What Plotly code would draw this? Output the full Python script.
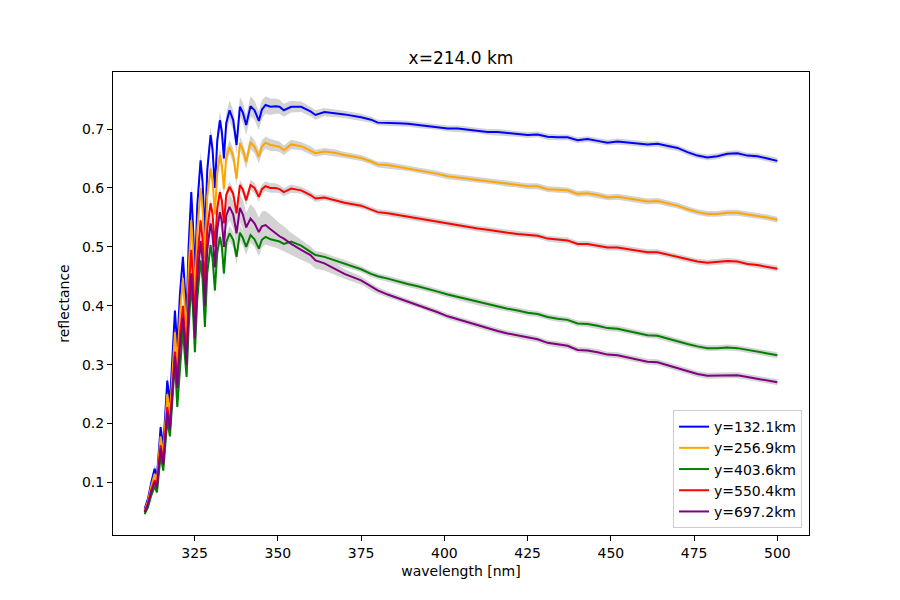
import plotly.graph_objects as go

wavelength = [310.0, 311.0, 312.0, 313.0, 313.7, 314.8, 315.6, 316.8, 317.6, 319.1,
              319.8, 320.6, 321.5, 322.0, 322.6, 323.2, 324.0, 324.5, 325.1, 325.8,
              326.8, 327.4, 328.1, 328.8, 329.8, 330.4, 331.1, 331.8, 332.6, 333.2,
              333.8, 334.5, 335.5, 336.6, 337.6, 338.6, 339.5, 340.5, 341.8, 343.0,
              344.3, 345.2, 346.3, 347.8, 349.3, 350.5, 351.8, 354.0, 357.0, 359.8,
              361.3, 364.0, 367.0, 370.0, 375.0, 378.0, 380.0,
              383, 386, 389, 392, 395, 398, 401, 404, 407, 410,
              413, 416, 419, 422, 425, 428, 431, 434, 437, 440,
              443, 446, 449, 452, 455, 458, 461, 464, 467, 470,
              473, 476, 479, 482, 485, 488, 491, 494, 497, 500]

labels = ["y=132.1km", "y=256.9km", "y=403.6km", "y=550.4km", "y=697.2km"]
colors = ["blue", "orange", "green", "red", "purple"]

refl_132 = [0.055, 0.072, 0.100, 0.123, 0.110, 0.194, 0.160, 0.273, 0.235, 0.392,
            0.330, 0.420, 0.483, 0.440, 0.380, 0.500, 0.593, 0.540, 0.450, 0.570,
            0.647, 0.610, 0.520, 0.630, 0.690, 0.665, 0.600, 0.680, 0.715, 0.695,
            0.650, 0.710, 0.732, 0.715, 0.673, 0.738, 0.728, 0.707, 0.739, 0.732,
            0.714, 0.733, 0.741, 0.738, 0.739, 0.738, 0.732, 0.738, 0.738, 0.730,
            0.724, 0.729, 0.727, 0.725, 0.720, 0.716, 0.711,
            0.711, 0.710, 0.709, 0.707, 0.705, 0.704, 0.701, 0.701, 0.699, 0.698,
            0.695, 0.695, 0.693, 0.692, 0.690, 0.691, 0.687, 0.686, 0.686, 0.681,
            0.683, 0.680, 0.677, 0.679, 0.677, 0.676, 0.674, 0.675, 0.671, 0.668,
            0.661, 0.655, 0.652, 0.654, 0.658, 0.659, 0.655, 0.654, 0.650, 0.646]

refl_257 = [0.052, 0.068, 0.094, 0.114, 0.104, 0.178, 0.148, 0.250, 0.215, 0.355,
            0.300, 0.385, 0.447, 0.405, 0.350, 0.460, 0.545, 0.497, 0.415, 0.525,
            0.600, 0.565, 0.480, 0.585, 0.633, 0.612, 0.555, 0.625, 0.656, 0.638,
            0.598, 0.652, 0.670, 0.655, 0.616, 0.676, 0.665, 0.644, 0.678, 0.670,
            0.653, 0.670, 0.677, 0.673, 0.672, 0.670, 0.664, 0.674, 0.671, 0.664,
            0.659, 0.662, 0.660, 0.656, 0.651, 0.645, 0.640,
            0.639, 0.636, 0.634, 0.631, 0.628, 0.624, 0.620, 0.618, 0.616, 0.614,
            0.612, 0.610, 0.607, 0.606, 0.603, 0.603, 0.598, 0.597, 0.596, 0.590,
            0.591, 0.588, 0.584, 0.585, 0.582, 0.580, 0.577, 0.578, 0.574, 0.570,
            0.564, 0.559, 0.556, 0.556, 0.558, 0.558, 0.555, 0.553, 0.550, 0.546]

refl_404 = [0.046, 0.058, 0.078, 0.093, 0.083, 0.145, 0.120, 0.205, 0.178, 0.305,
            0.228, 0.300, 0.361, 0.320, 0.279, 0.360, 0.438, 0.395, 0.321, 0.410,
            0.477, 0.445, 0.364, 0.455, 0.503, 0.480, 0.426, 0.490, 0.517, 0.500,
            0.455, 0.508, 0.523, 0.512, 0.483, 0.524, 0.515, 0.500, 0.520, 0.513,
            0.497, 0.512, 0.517, 0.513, 0.511, 0.509, 0.505, 0.509, 0.502, 0.491,
            0.486, 0.483, 0.477, 0.472, 0.462, 0.454, 0.450,
            0.446, 0.441, 0.437, 0.433, 0.429, 0.424, 0.419, 0.415, 0.410, 0.406,
            0.402, 0.398, 0.395, 0.392, 0.388, 0.386, 0.381, 0.378, 0.376, 0.370,
            0.369, 0.366, 0.362, 0.361, 0.357, 0.354, 0.350, 0.349, 0.344, 0.340,
            0.335, 0.331, 0.328, 0.328, 0.329, 0.328, 0.325, 0.322, 0.319, 0.316]

refl_550 = [0.050, 0.064, 0.087, 0.104, 0.095, 0.163, 0.135, 0.228, 0.197, 0.322,
            0.272, 0.350, 0.400, 0.365, 0.315, 0.420, 0.495, 0.450, 0.375, 0.475,
            0.545, 0.512, 0.435, 0.530, 0.574, 0.555, 0.500, 0.565, 0.593, 0.578,
            0.540, 0.588, 0.602, 0.590, 0.557, 0.605, 0.597, 0.579, 0.605, 0.600,
            0.585, 0.598, 0.603, 0.600, 0.600, 0.598, 0.593, 0.599, 0.596, 0.588,
            0.582, 0.584, 0.580, 0.575, 0.570, 0.564, 0.559,
            0.557, 0.554, 0.551, 0.549, 0.546, 0.543, 0.540, 0.537, 0.534, 0.531,
            0.529, 0.526, 0.524, 0.522, 0.520, 0.519, 0.514, 0.512, 0.511, 0.505,
            0.505, 0.502, 0.499, 0.499, 0.496, 0.494, 0.491, 0.491, 0.487, 0.484,
            0.479, 0.475, 0.473, 0.474, 0.476, 0.475, 0.471, 0.469, 0.466, 0.463]

refl_697 = [0.049, 0.062, 0.084, 0.100, 0.090, 0.158, 0.130, 0.220, 0.190, 0.315,
            0.260, 0.330, 0.380, 0.345, 0.300, 0.390, 0.455, 0.415, 0.345, 0.440,
            0.510, 0.478, 0.400, 0.495, 0.540, 0.520, 0.465, 0.530, 0.559, 0.543,
            0.500, 0.553, 0.568, 0.555, 0.523, 0.566, 0.555, 0.533, 0.548, 0.540,
            0.525, 0.535, 0.537, 0.530, 0.523, 0.518, 0.514, 0.505, 0.495, 0.486,
            0.477, 0.472, 0.463, 0.454, 0.443, 0.432, 0.426,
            0.419, 0.413, 0.407, 0.402, 0.396, 0.389, 0.382, 0.377, 0.371, 0.366,
            0.362, 0.357, 0.353, 0.350, 0.346, 0.343, 0.337, 0.334, 0.332, 0.325,
            0.324, 0.321, 0.317, 0.316, 0.312, 0.309, 0.305, 0.304, 0.299, 0.294,
            0.289, 0.284, 0.281, 0.281, 0.282, 0.282, 0.279, 0.276, 0.273, 0.270]

unc_132 = [0.004, 0.005, 0.006, 0.007, 0.007, 0.008, 0.008, 0.010,
           0.010, 0.011, 0.011, 0.012, 0.012, 0.012, 0.012, 0.013, 0.013, 0.013,
           0.013, 0.014, 0.014, 0.014, 0.014, 0.014, 0.014, 0.015, 0.015,
           0.015, 0.016, 0.016, 0.016, 0.016, 0.017, 0.017, 0.017, 0.017, 0.017,
           0.017, 0.017, 0.016, 0.016, 0.016, 0.015, 0.014, 0.013, 0.012, 0.011,
           0.010, 0.009, 0.008, 0.008, 0.007, 0.007, 0.006, 0.006, 0.005, 0.005,
           0.005, 0.005, 0.005, 0.005, 0.005, 0.005, 0.005, 0.005, 0.005, 0.005,
           0.005, 0.005, 0.005, 0.005, 0.005, 0.005, 0.005, 0.005, 0.005, 0.005,
           0.005, 0.005, 0.005, 0.005, 0.005, 0.005, 0.005, 0.005, 0.005, 0.005,
           0.005, 0.005, 0.005, 0.005, 0.005, 0.005, 0.005, 0.005, 0.005, 0.005]

unc_257 = [0.004, 0.004, 0.005, 0.006, 0.006, 0.007, 0.007, 0.008,
           0.008, 0.009, 0.009, 0.010, 0.010, 0.010, 0.010, 0.011, 0.011, 0.011,
           0.011, 0.011, 0.011, 0.012, 0.012, 0.012, 0.012, 0.012, 0.012,
           0.012, 0.012, 0.012, 0.012, 0.012, 0.012, 0.012, 0.012, 0.012, 0.012,
           0.012, 0.012, 0.011, 0.011, 0.011, 0.010, 0.010, 0.009, 0.009, 0.008,
           0.008, 0.007, 0.007, 0.006, 0.006, 0.006, 0.005, 0.005, 0.005, 0.005,
           0.005, 0.005, 0.005, 0.005, 0.005, 0.005, 0.005, 0.005, 0.005, 0.005,
           0.005, 0.005, 0.005, 0.005, 0.005, 0.005, 0.005, 0.005, 0.005, 0.005,
           0.005, 0.005, 0.005, 0.005, 0.005, 0.005, 0.005, 0.005, 0.005, 0.005,
           0.005, 0.005, 0.005, 0.005, 0.005, 0.005, 0.005, 0.005, 0.005, 0.005]

unc_404 = [0.003, 0.004, 0.005, 0.005, 0.005, 0.006, 0.006, 0.007,
           0.007, 0.008, 0.008, 0.008, 0.009, 0.009, 0.009, 0.009, 0.010, 0.010,
           0.010, 0.010, 0.010, 0.011, 0.011, 0.011, 0.011, 0.011, 0.012,
           0.012, 0.012, 0.012, 0.013, 0.013, 0.013, 0.013, 0.013, 0.013, 0.013,
           0.013, 0.013, 0.013, 0.013, 0.013, 0.013, 0.012, 0.012, 0.012, 0.011,
           0.010, 0.009, 0.008, 0.007, 0.007, 0.006, 0.006, 0.005, 0.005, 0.005,
           0.005, 0.005, 0.005, 0.005, 0.005, 0.005, 0.005, 0.005, 0.005, 0.005,
           0.005, 0.005, 0.005, 0.005, 0.005, 0.005, 0.005, 0.005, 0.005, 0.005,
           0.005, 0.005, 0.005, 0.005, 0.005, 0.005, 0.005, 0.005, 0.005, 0.005,
           0.005, 0.005, 0.005, 0.005, 0.005, 0.005, 0.005, 0.005, 0.005, 0.005]

unc_550 = [0.003, 0.004, 0.004, 0.005, 0.005, 0.006, 0.006, 0.006,
           0.007, 0.007, 0.007, 0.008, 0.008, 0.008, 0.008, 0.008, 0.009, 0.009,
           0.009, 0.009, 0.009, 0.009, 0.009, 0.009, 0.009, 0.009, 0.009,
           0.009, 0.009, 0.009, 0.009, 0.009, 0.009, 0.009, 0.009, 0.009, 0.009,
           0.009, 0.009, 0.009, 0.009, 0.008, 0.008, 0.008, 0.008, 0.007, 0.007,
           0.007, 0.006, 0.006, 0.006, 0.005, 0.005, 0.005, 0.005, 0.005, 0.005,
           0.005, 0.005, 0.005, 0.005, 0.005, 0.005, 0.005, 0.005, 0.005, 0.005,
           0.005, 0.005, 0.005, 0.005, 0.005, 0.005, 0.005, 0.005, 0.005, 0.005,
           0.005, 0.005, 0.005, 0.005, 0.005, 0.005, 0.005, 0.005, 0.005, 0.005,
           0.005, 0.005, 0.005, 0.005, 0.005, 0.005, 0.005, 0.005, 0.005, 0.005]

unc_697 = [0.004, 0.005, 0.006, 0.007, 0.007, 0.008, 0.008, 0.010,
           0.010, 0.011, 0.011, 0.012, 0.012, 0.013, 0.013, 0.014, 0.014, 0.015,
           0.015, 0.016, 0.016, 0.017, 0.017, 0.018, 0.018, 0.019, 0.019,
           0.020, 0.021, 0.021, 0.022, 0.022, 0.023, 0.023, 0.024, 0.024, 0.025,
           0.025, 0.025, 0.025, 0.025, 0.025, 0.024, 0.024, 0.023, 0.022, 0.021,
           0.019, 0.017, 0.015, 0.014, 0.012, 0.010, 0.008, 0.007, 0.006, 0.006,
           0.005, 0.005, 0.005, 0.005, 0.005, 0.005, 0.005, 0.005, 0.005, 0.005,
           0.005, 0.005, 0.005, 0.005, 0.005, 0.005, 0.005, 0.005, 0.005, 0.005,
           0.005, 0.005, 0.005, 0.005, 0.005, 0.005, 0.005, 0.005, 0.005, 0.005,
           0.005, 0.005, 0.005, 0.005, 0.005, 0.005, 0.005, 0.005, 0.005, 0.005]

series = [refl_132, refl_257, refl_404, refl_550, refl_697]
uncs = [unc_132, unc_257, unc_404, unc_550, unc_697]

fig = go.Figure()

# uncertainty bands first
for vals, unc in zip(series, uncs):
    upper = [v + u for v, u in zip(vals, unc)]
    lower = [v - u for v, u in zip(vals, unc)]
    fig.add_trace(go.Scatter(
        x=wavelength + wavelength[::-1],
        y=upper + lower[::-1],
        fill="toself", fillcolor="#d3d3d3",
        line=dict(width=0, color="#d3d3d3"),
        mode="lines", showlegend=False, hoverinfo="skip"))

for vals, lab, col in zip(series, labels, colors):
    fig.add_trace(go.Scatter(
        x=wavelength, y=vals, mode="lines", name=lab,
        line=dict(color=col, width=2)))

axis_common = dict(showgrid=False, zeroline=False, showline=True, linecolor="black",
                   linewidth=1, mirror=True, ticks="outside", ticklen=5,
                   tickcolor="black", tickwidth=1,
                   tickfont=dict(family="DejaVu Sans", size=14, color="black"))

fig.update_layout(
    width=900, height=600,
    paper_bgcolor="white", plot_bgcolor="white",
    margin=dict(l=105, r=99, t=64, b=73),
    font=dict(family="DejaVu Sans", color="black"),
    title=dict(text="x=214.0 km", x=(105 + 348) / 900, xanchor="center",
               y=1 - 50 / 600, yanchor="middle", yref="container",
               font=dict(family="DejaVu Sans", size=17, color="black")),
    xaxis=dict(range=[300.5, 509.5], tickvals=[325, 350, 375, 400, 425, 450, 475, 500],
               title=dict(text="wavelength [nm]", standoff=6,
                          font=dict(family="DejaVu Sans", size=14)),
               **axis_common),
    yaxis=dict(range=[0.0106, 0.797], tickvals=[0.1, 0.2, 0.3, 0.4, 0.5, 0.6, 0.7],
               tickformat=".1f",
               title=dict(text="reflectance", standoff=9,
                          font=dict(family="DejaVu Sans", size=14)),
               **axis_common),
    legend=dict(x=0.99, y=0.015, xanchor="right", yanchor="bottom",
                bgcolor="rgba(255,255,255,0.8)", bordercolor="#cccccc", borderwidth=1,
                font=dict(family="DejaVu Sans", size=14, color="black"),
                itemwidth=30),
    showlegend=True,
)

fig.write_html("out.html")
